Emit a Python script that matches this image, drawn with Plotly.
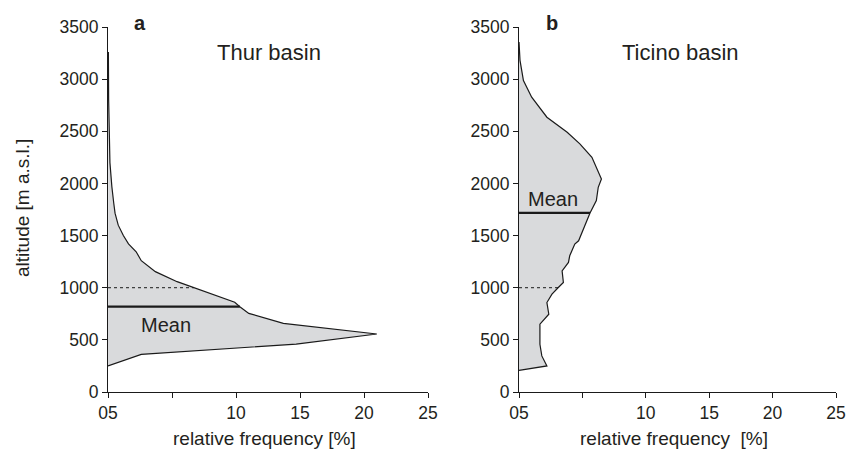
import numpy as np
import plotly.graph_objects as go

# ---- data ----
thur_alt = [250, 360, 460, 556, 658, 754, 818, 860, 1058, 1154, 1259, 1345, 1420,
            1500, 1600, 1715, 1810, 1970, 2200, 2480, 2800, 3260]
thur_freq = [0.0, 2.6, 14.7, 21.0, 13.7, 11.0, 10.3, 9.9, 5.4, 3.7, 2.6, 2.2, 1.6,
             1.2, 0.8, 0.55, 0.45, 0.3, 0.15, 0.08, 0.05, 0.03]
thur_mean = 818

ticino_alt = [208, 250, 346, 458, 650, 746, 858, 938, 1002, 1050, 1162, 1242, 1306,
              1418, 1450, 1563, 1717, 1835, 1963, 2043, 2251, 2380, 2491, 2635,
              2827, 2987, 3180, 3355]
ticino_freq = [0.0, 2.2, 1.8, 1.65, 1.65, 2.35, 2.2, 2.6, 3.1, 3.5, 3.4, 3.9, 4.0,
               4.4, 4.7, 5.1, 5.6, 6.1, 6.25, 6.5, 5.75, 4.8, 3.8, 2.2,
               1.0, 0.35, 0.08, 0.0]
ticino_mean = 1717

ref_alt = 1000
x_tickvals = [0, 5, 10, 15, 20, 25]
x_ticktext = ["05", "", "10", "15", "20", "25"]
y_tickvals = [0, 500, 1000, 1500, 2000, 2500, 3000, 3500]

panel_titles = ["Thur basin", "Ticino basin"]
panel_letters = ["a", "b"]
x_title = ["relative frequency [%]", "relative frequency  [%]"]
y_title = "altitude [m a.s.l.]"

# ---- styling ----
TXT = "#231f20"
FILL = "#d9dadc"
FONT = "Liberation Sans, Arial, sans-serif"
W, H = 860, 456

fig = go.Figure()

panels = [
    (thur_alt, thur_freq, thur_mean, "x", "y"),
    (ticino_alt, ticino_freq, ticino_mean, "x2", "y2"),
]
for alt, freq, mean, xa, ya in panels:
    fig.add_trace(go.Scatter(x=freq, y=alt, mode="lines", fill="toself",
                             fillcolor=FILL, line=dict(color="#1a1a1a", width=1.2),
                             xaxis=xa, yaxis=ya, showlegend=False, hoverinfo="skip"))
    mx = float(np.interp(mean, alt, freq))
    fig.add_trace(go.Scatter(x=[0, mx], y=[mean, mean], mode="lines",
                             line=dict(color="#1a1a1a", width=2.2),
                             xaxis=xa, yaxis=ya, showlegend=False, hoverinfo="skip"))
    rx = float(np.interp(ref_alt, alt, freq))
    fig.add_trace(go.Scatter(x=[0, rx], y=[ref_alt, ref_alt], mode="lines",
                             line=dict(color="#1a1a1a", width=1, dash="dot"),
                             xaxis=xa, yaxis=ya, showlegend=False, hoverinfo="skip"))

def px_x(p):
    return p / W

def px_y(p):
    return (H - p) / H

y_dom = [px_y(392), px_y(27)]
axis_common = dict(showgrid=False, zeroline=False, showline=True, linecolor="#1a1a1a",
                   linewidth=1.2, ticks="outside", ticklen=5, tickwidth=1.2,
                   tickcolor="#1a1a1a", automargin=False,
                   tickfont=dict(family=FONT, size=17.5, color=TXT))

fig.update_layout(
    width=W, height=H, margin=dict(l=0, r=0, t=0, b=0),
    paper_bgcolor="white", plot_bgcolor="white",
    xaxis=dict(domain=[px_x(108), px_x(428)], range=[0, 25], tickvals=x_tickvals,
               ticktext=x_ticktext, anchor="y", **axis_common),
    yaxis=dict(domain=y_dom, range=[0, 3500], tickvals=y_tickvals, anchor="x",
               **axis_common),
    xaxis2=dict(domain=[px_x(519), px_x(836)], range=[0, 25], tickvals=x_tickvals,
                ticktext=x_ticktext, anchor="y2", **axis_common),
    yaxis2=dict(domain=y_dom, range=[0, 3500], tickvals=y_tickvals, anchor="x2",
                **axis_common),
)

C = dict(showarrow=False, xanchor="center", yanchor="middle")
ann = []
for i, (xr, bx, tx, cx) in enumerate([("x", 2.5, 12.6, 12.2), ("x2", 2.6, 12.7, 12.2)]):
    ann.append(dict(xref=xr, yref="paper", x=bx, y=px_y(23), text="<b>%s</b>" % panel_letters[i],
                    font=dict(family=FONT, size=20, color=TXT), **C))
    ann.append(dict(xref=xr, yref="paper", x=tx, y=px_y(52), text=panel_titles[i],
                    font=dict(family=FONT, size=22, color=TXT), **C))
    ann.append(dict(xref=xr, yref="paper", x=cx, y=px_y(438), text=x_title[i],
                    font=dict(family=FONT, size=19, color=TXT), **C))
ann.append(dict(xref="x", yref="y", x=4.5, y=642, text="Mean",
                font=dict(family=FONT, size=20, color=TXT), **C))
ann.append(dict(xref="x2", yref="y2", x=2.7, y=1854, text="Mean",
                font=dict(family=FONT, size=20, color=TXT), **C))
ann.append(dict(xref="paper", yref="paper", x=px_x(22), y=px_y(208), text=y_title,
                textangle=-90, font=dict(family=FONT, size=19, color=TXT), **C))
fig.update_layout(annotations=ann)

fig.write_html("out.html", config={"displayModeBar": False},
               post_script="document.body.style.margin='0';document.body.style.overflow='hidden';")
